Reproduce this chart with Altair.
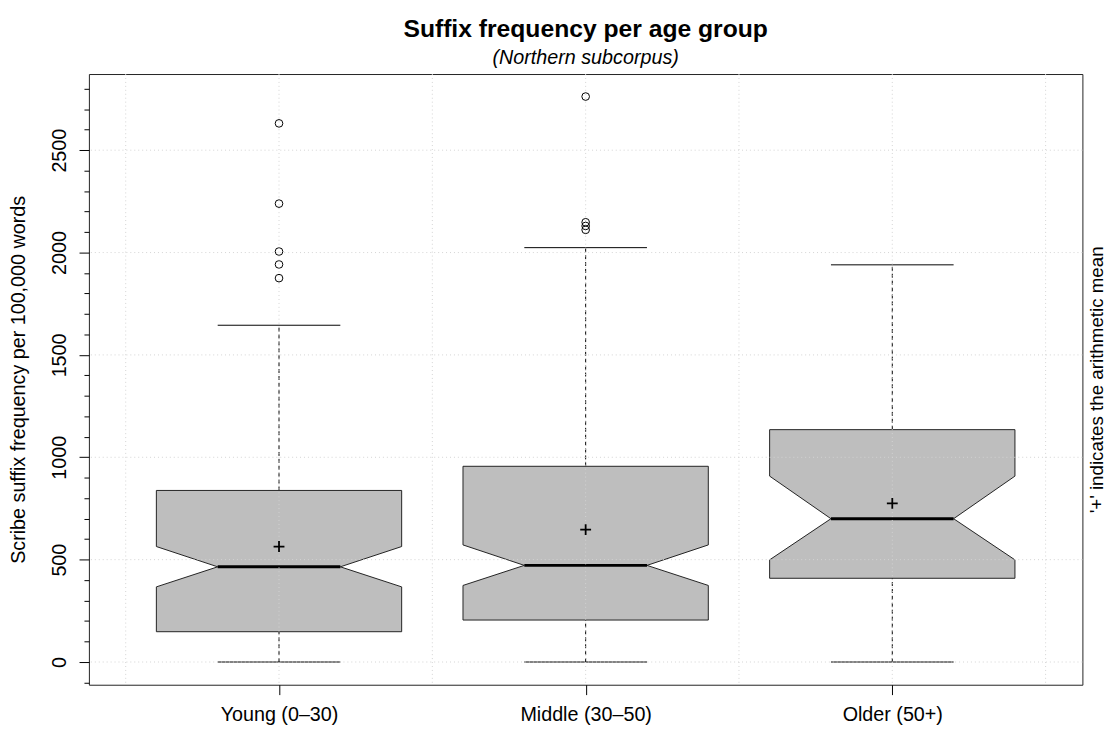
import json
import altair as alt
import pandas as pd

# ---------------- data ----------------
groups = ["Young (0–30)", "Middle (30–50)", "Older (50+)"]
positions = [1, 2, 3]
whisker_low = [0, 0, 0]
q1 = [148, 205, 409]
notch_low = [367, 374, 499]
median = [465, 472, 700]
notch_high = [564, 572, 908]
q3 = [838, 956, 1135]
whisker_high = [1645, 2024, 1940]
means = [564, 647, 775]
outliers_young = [2631, 2239, 2005, 1942, 1875]
outliers_middle = [2762, 2148, 2130, 2111]
outliers_older = []

grid_y = [0, 500, 1000, 1500, 2000, 2500]
grid_x = [0.5, 1, 1.5, 2, 2.5, 3, 3.5]
y_ticks = list(range(-100, 2900, 100))

title_text = "Suffix frequency per age group"
subtitle_text = "(Northern subcorpus)"
y_title = "Scribe suffix frequency per 100,000 words"
note_text = "'+' indicates the arithmetic mean"

# ---------------- styles ----------------
BOX_HALF = 0.4      # boxwex 0.8
NOTCH_HALF = 0.2    # notch.frac 0.5
CAP_HALF = 0.2      # staplewex 0.5
FONT = "Liberation Sans"
W, H = 1007, 619

xs = alt.Scale(domain=[0.38, 3.62], nice=False, zero=False)
ys = alt.Scale(domain=[-111, 2872], nice=False, zero=False)

# ---------------- tables ----------------
stats = pd.DataFrame({
    "group": groups, "pos": positions, "wlo": whisker_low, "q1": q1,
    "median": median, "q3": q3, "whi": whisker_high, "mean": means,
})
stats["capl"] = stats["pos"] - CAP_HALF
stats["capr"] = stats["pos"] + CAP_HALF
stats["medl"] = stats["pos"] - NOTCH_HALF
stats["medr"] = stats["pos"] + NOTCH_HALF

box_rows = []
for i, g in enumerate(groups):
    c = positions[i]
    for yv, hw in [(q1[i], BOX_HALF), (notch_low[i], BOX_HALF), (median[i], NOTCH_HALF),
                   (notch_high[i], BOX_HALF), (q3[i], BOX_HALF)]:
        box_rows.append({"group": g, "y": yv, "xl": c - hw, "xr": c + hw})
box_df = pd.DataFrame(box_rows)

out_rows = []
for c, vals in zip(positions, [outliers_young, outliers_middle, outliers_older]):
    for v in vals:
        out_rows.append({"pos": c, "v": v})
out_df = pd.DataFrame(out_rows)

gy_df = pd.DataFrame({"v": grid_y})
gx_df = pd.DataFrame({"v": grid_x})

label_expr = json.dumps(groups) + "[datum.value - 1]"

# ---------------- layers ----------------
base = alt.Chart(stats)

whisk_up = base.mark_rule(color="black", strokeWidth=1, strokeDash=[4, 3]).encode(
    x=alt.X("pos:Q", scale=xs, axis=None),
    y=alt.Y("q3:Q", scale=ys, axis=None), y2="whi:Q")
whisk_dn = base.mark_rule(color="black", strokeWidth=1, strokeDash=[4, 3]).encode(
    x=alt.X("pos:Q", scale=xs, axis=None),
    y=alt.Y("wlo:Q", scale=ys, axis=None), y2="q1:Q")

box = alt.Chart(box_df).mark_area(
    orient="horizontal", fill="#BEBEBE", stroke="#222222", strokeWidth=1, opacity=1
).encode(
    y=alt.Y("y:Q", scale=ys, axis=alt.Axis(
        values=y_ticks,
        labelExpr="datum.value % 500 === 0 ? datum.value : ''",
        tickSize={"condition": {"test": "datum.value % 500 === 0", "value": 10}, "value": 5},
        tickColor="black", domain=False, grid=False,
        labelAngle=270, labelAlign="center", labelBaseline="alphabetic",
        labelPadding=14, labelFontSize=20, labelColor="black", labelFont=FONT,
        title=y_title, titleFontSize=20, titleFontWeight="normal", titleColor="black",
        titleFont=FONT, titleAngle=270, titleX=-65, titleY=H / 2, titleAlign="center",
        titleBaseline="alphabetic")),
    x=alt.X("xl:Q", scale=xs, axis=alt.Axis(
        values=positions, labelExpr=label_expr, tickSize=10, tickColor="black",
        domain=False, grid=False, labelFontSize=20, labelColor="black", labelFont=FONT,
        labelBaseline="alphabetic", labelPadding=26, title=None)),
    x2="xr:Q",
    detail="group:N",
)

med = base.mark_rule(color="black", strokeWidth=3).encode(
    x=alt.X("medl:Q", scale=xs, axis=None), x2="medr:Q",
    y=alt.Y("median:Q", scale=ys, axis=None))
cap_up = base.mark_rule(color="black", strokeWidth=1).encode(
    x=alt.X("capl:Q", scale=xs, axis=None), x2="capr:Q",
    y=alt.Y("whi:Q", scale=ys, axis=None))
cap_dn = base.mark_rule(color="black", strokeWidth=1).encode(
    x=alt.X("capl:Q", scale=xs, axis=None), x2="capr:Q",
    y=alt.Y("wlo:Q", scale=ys, axis=None))

outl = alt.Chart(out_df).mark_point(
    shape="circle", filled=False, size=60, stroke="black", strokeWidth=1, opacity=1
).encode(x=alt.X("pos:Q", scale=xs, axis=None), y=alt.Y("v:Q", scale=ys, axis=None))

grid_h = alt.Chart(gy_df).mark_rule(color="#D3D3D3", strokeWidth=1, strokeDash=[1, 3]).encode(
    y=alt.Y("v:Q", scale=ys, axis=None))
grid_v = alt.Chart(gx_df).mark_rule(color="#D3D3D3", strokeWidth=1, strokeDash=[1, 3]).encode(
    x=alt.X("v:Q", scale=xs, axis=None))

mean_pts = base.mark_point(
    shape="M-1,0L1,0M0,-1L0,1", filled=False, size=121, stroke="black",
    strokeWidth=1.8, opacity=1
).encode(
    x=alt.X("pos:Q", scale=xs, axis=None),
    y=alt.Y("mean:Q", scale=ys, axis=alt.Axis(
        orient="right", labels=False, ticks=False, domain=False, grid=False,
        title=note_text, titleFontSize=19, titleFontWeight="normal", titleColor="black",
        titleFont=FONT, titleAngle=270, titleX=20, titleY=H / 2, titleAlign="center",
        titleBaseline="alphabetic")),
)

chart = alt.layer(
    whisk_up, whisk_dn, box, med, cap_up, cap_dn, outl, grid_h, grid_v, mean_pts
).resolve_axis(x="independent", y="independent").properties(
    width=W, height=H,
    autosize=alt.AutoSizeParams(type="none"),
    padding={"left": 82, "top": 62, "right": 30, "bottom": 45},
    title=alt.TitleParams(
        text=title_text, subtitle=subtitle_text, fontSize=25, fontWeight="bold",
        subtitleFontSize=20, subtitleFontStyle="italic", anchor="middle",
        offset=6, subtitlePadding=6, color="black", subtitleColor="black",
        font=FONT, subtitleFont=FONT),
).configure(font=FONT).configure_view(stroke="#222222", strokeWidth=1)

chart.save("out.html", embed_options={"renderer": "svg", "actions": False})
